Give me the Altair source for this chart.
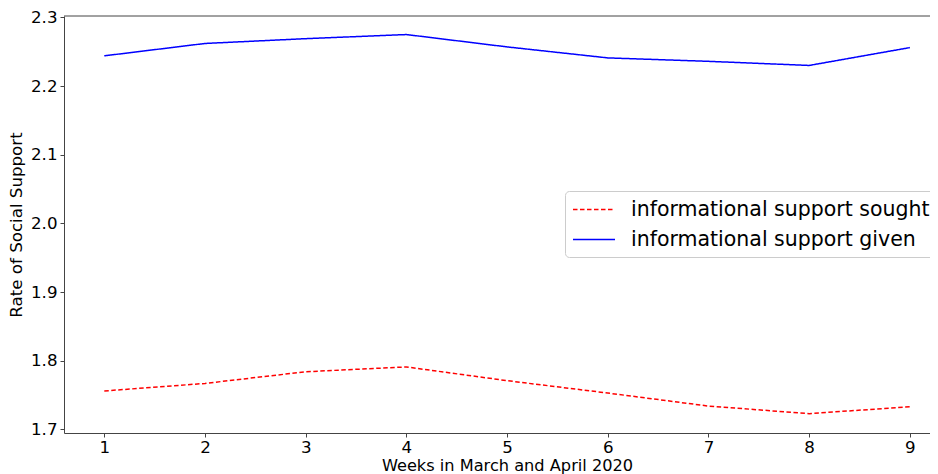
import altair as alt
import pandas as pd

weeks = [1, 2, 3, 4, 5, 6, 7, 8, 9]
sought = [1.756, 1.767, 1.784, 1.791, 1.771, 1.753, 1.734, 1.723, 1.733]
given = [2.244, 2.262, 2.269, 2.275, 2.257, 2.241, 2.236, 2.230, 2.256]
series_names = ["informational support sought", "informational support given"]
y_ticks = [1.7, 1.8, 1.9, 2.0, 2.1, 2.2, 2.3]

df = pd.DataFrame(
    [{"week": w, "value": v, "series": series_names[0]} for w, v in zip(weeks, sought)]
    + [{"week": w, "value": v, "series": series_names[1]} for w, v in zip(weeks, given)]
)

W = 866
H = 417
FONT = "DejaVu Sans"

leg = alt.Legend(title=None, orient="none", legendX=501, legendY=175)

lines = alt.Chart(df).mark_line(strokeWidth=1.5).encode(
    x=alt.X("week:Q", scale=alt.Scale(domain=[0.6, 9.2], nice=False, zero=False),
            axis=alt.Axis(values=weeks, format="d", title="Weeks in March and April 2020",
                          titleX=443, titleAlign="center", labelPadding=2, titlePadding=2,
                          titleFontSize=16.2)),
    y=alt.Y("value:Q", scale=alt.Scale(domain=[1.6948, 2.302], nice=False, zero=False),
            axis=alt.Axis(values=y_ticks, format=".1f", title="Rate of Social Support")),
    color=alt.Color("series:N", scale=alt.Scale(domain=series_names, range=["#ff0000", "#0000ff"]),
                    legend=leg),
    strokeDash=alt.StrokeDash("series:N", scale=alt.Scale(domain=series_names, range=[[4.5, 2.5], [1, 0]]),
                              legend=leg),
)

top_spine = alt.Chart(alt.Data(values=[{"a": 1}])).mark_rule(color="#444", strokeWidth=1).encode(
    y=alt.value(0), x=alt.value(0), x2=alt.value(W)
)

chart = alt.layer(lines, top_spine).properties(
    width=W, height=H,
    autosize=alt.AutoSizeParams(type="none"),
    padding={"left": 56, "top": 8, "right": 0, "bottom": 60},
).configure_view(stroke=None).configure_axis(
    grid=False,
    domainColor="#444",
    domainWidth=1,
    tickColor="#444",
    tickSize=4,
    labelFont=FONT,
    labelFontSize=16.67,
    labelColor="#000",
    titleFont=FONT,
    titleFontSize=16.67,
    titleFontWeight="normal",
    titleColor="#000",
    labelPadding=3,
).configure_axisY(titlePadding=5).configure_legend(
    labelFont=FONT,
    labelFontSize=20.5,
    labelColor="#000",
    labelLimit=600,
    labelOffset=36,
    symbolType="M-1,0H3",
    symbolSize=441,
    symbolStrokeWidth=1.5,
    fillColor="white",
    strokeColor="#ccc",
    cornerRadius=4,
    padding=7,
    rowPadding=8,
)

chart.save("out.html", embed_options={"renderer": "svg", "actions": False})
